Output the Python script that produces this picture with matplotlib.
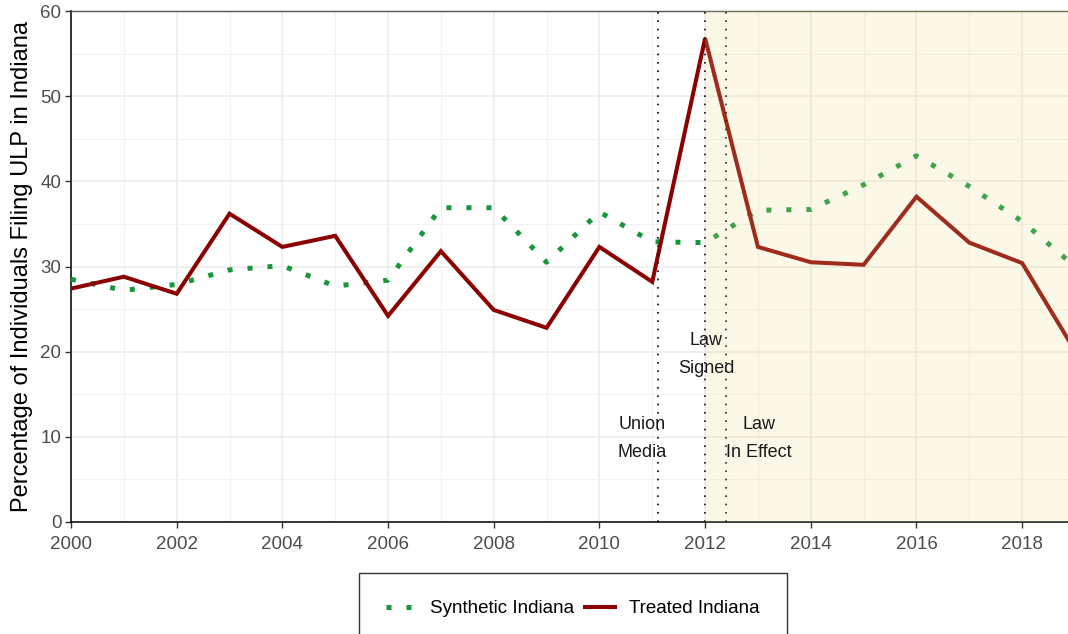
import matplotlib
matplotlib.use("Agg")
import matplotlib.pyplot as plt
from matplotlib.ticker import MultipleLocator

plt.rcParams["font.family"] = ["Liberation Sans", "DejaVu Sans"]

# Serie anual de porcentaje de personas que presentan ULP
years = list(range(2000, 2020))
treated = [27.4, 28.8, 26.8, 36.2, 32.3, 33.6, 24.2, 31.8, 24.9, 22.8,
           32.3, 28.2, 56.8, 32.3, 30.5, 30.2, 38.2, 32.8, 30.4, 20.1]
synthetic = [28.5, 27.2, 27.9, 29.6, 30.1, 27.7, 28.4, 36.9, 36.9, 30.5,
             36.4, 32.9, 32.8, 36.6, 36.7, 39.6, 43.0, 39.4, 35.3, 30.0]

# Eventos clave
event_x = [2011.1, 2012.0, 2012.4]
event_labels = ["Union\nMedia", "Law\nSigned", "Law\nIn Effect"]
label_x = [2010.81, 2012.02, 2013.02]
label_y = [9.75, 19.7, 9.75]
law_start, x_end = 2012.0, 2019.0

GREEN = "#17963A"
RED = "#8B0000"

fig = plt.figure(figsize=(10.68, 6.34), dpi=100)
ax = fig.add_axes([71 / 1068, 1 - 522 / 634, 1004 / 1068, 511 / 634])

ax.plot(years, synthetic, color=GREEN, lw=3.6, dashes=(1, 3),
        dash_capstyle="butt", label="Synthetic Indiana", zorder=3)
ax.plot(years, treated, color=RED, lw=2.9, solid_joinstyle="miter",
        label="Treated Indiana", zorder=3)

for x in event_x:
    ax.axvline(x, color="black", lw=1.2, linestyle=(0, (1, 4)), zorder=4)

# zona sombreada tras la firma de la ley (encima de las líneas, semitransparente)
ax.axvspan(law_start, x_end, color="#EBDC8C", alpha=0.2, lw=0, zorder=5)

for x, y, t in zip(label_x, label_y, event_labels):
    ax.text(x, y, t, ha="center", va="center", multialignment="center",
            fontsize=13, color="#1A1A1A", linespacing=1.85, zorder=6)

ax.set_xlim(2000, x_end)
ax.set_ylim(0, 60)
ax.xaxis.set_major_locator(MultipleLocator(2))
ax.xaxis.set_minor_locator(MultipleLocator(1))
ax.yaxis.set_major_locator(MultipleLocator(10))
ax.yaxis.set_minor_locator(MultipleLocator(5))
ax.grid(which="major", color="#EBEBEB", lw=1.1, zorder=0)
ax.grid(which="minor", color="#F2F2F2", lw=0.7, zorder=0)
ax.set_axisbelow(True)

ax.tick_params(which="major", direction="out", length=4, width=1.0,
               color="#333333", labelsize=13.5, labelcolor="#4D4D4D")
ax.tick_params(axis="x", pad=6)
ax.tick_params(axis="y", pad=3)
ax.tick_params(which="minor", length=0)

ax.spines["left"].set_color("black")
ax.spines["bottom"].set_color("black")
ax.spines["left"].set_linewidth(1.1)
ax.spines["bottom"].set_linewidth(1.1)
ax.spines["top"].set_color("#555555")
ax.spines["top"].set_linewidth(1.0)
ax.spines["right"].set_visible(False)

ax.set_ylabel("Percentage of Individuals Filing ULP in Indiana",
              fontsize=17, color="black", labelpad=5)

leg = fig.legend(loc="upper center", bbox_to_anchor=(573 / 1068, 1 - 573 / 634),
                 ncol=2, fontsize=13.5, frameon=True, fancybox=False,
                 edgecolor="black", handlelength=1.6, handletextpad=0.75,
                 columnspacing=0.55, borderpad=1.45, borderaxespad=0)
leg.get_frame().set_linewidth(1.0)

fig.savefig("out.png", dpi=100)
